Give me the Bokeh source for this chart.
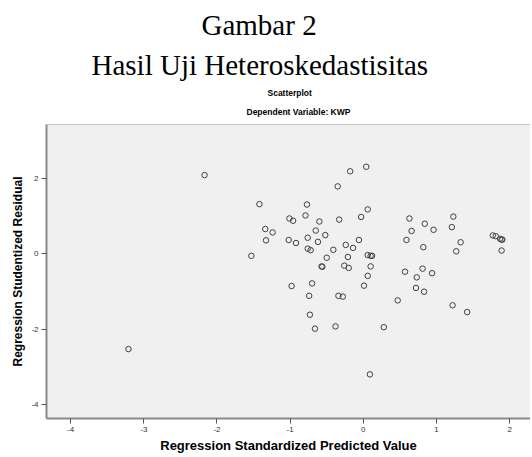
from bokeh.plotting import figure
from bokeh.models import Title, FixedTicker, Span
from bokeh.embed import file_html
from bokeh.resources import INLINE

pred = [-3.21, -2.17, -1.42, -1.34, -1.33, -1.53, -0.18, 0.04, -0.35, -0.77,
        0.06, -1.01, -0.96, -0.79, -0.60, -0.33, -0.03, -1.24, -1.02, -0.92,
        -0.65, -0.76, -0.52, -0.62, -0.76, -0.72, -0.41, -0.24, -0.14, -0.06,
        -0.50, -0.21, 0.06, 0.10, 0.12, -0.57, -0.56, -0.26, -0.20, 0.10,
        0.06, 0.01, -0.98, -0.70, -0.74, -0.34, -0.28, 0.47, 0.63, 0.84,
        0.96, 0.66, 0.59, 0.82, 1.23, 1.21, 1.33, 1.27, 1.77, 1.81,
        1.87, 1.89, 1.90, 1.89, 0.57, 0.73, 0.81, 0.94, 0.72, 0.83,
        1.22, 1.42, -0.73, -0.66, -0.38, 0.28, 0.09]
resid = [-2.53, 2.08, 1.31, 0.65, 0.35, -0.06, 2.18, 2.30, 1.78, 1.30,
         1.17, 0.93, 0.87, 1.01, 0.85, 0.90, 0.97, 0.56, 0.36, 0.28,
         0.61, 0.42, 0.49, 0.31, 0.13, 0.09, 0.10, 0.23, 0.15, 0.36,
         -0.11, -0.09, -0.04, -0.06, -0.06, -0.34, -0.35, -0.32, -0.38, -0.34,
         -0.59, -0.85, -0.86, -0.79, -1.12, -1.12, -1.14, -1.24, 0.93, 0.79,
         0.63, 0.60, 0.36, 0.17, 0.98, 0.70, 0.30, 0.06, 0.48, 0.46,
         0.39, 0.37, 0.37, 0.08, -0.48, -0.63, -0.40, -0.52, -0.91, -1.01,
         -1.37, -1.55, -1.62, -1.99, -1.93, -1.95, -3.20]

x_ticks = [-4, -3, -2, -1, 0, 1, 2]
x_tick_labels = ["-4", "-3", "-2", "-1", "0", "1", "2"]
y_ticks = [-4, -2, 0, 2]
y_tick_labels = ["-4", "-2", "0", "2"]

heading1 = "Gambar 2"
heading2 = "Hasil Uji Heteroskedastisitas"
chart_title = "Scatterplot"
chart_subtitle = "Dependent Variable: KWP"
x_label = "Regression Standardized Predicted Value"
y_label = "Regression Studentized Residual"

SANS = "Liberation Sans"
SERIF = "Liberation Serif"

p = figure(width=530, height=455, x_range=(-4.33, 2.285), y_range=(-4.37, 3.42),
           output_backend="svg", toolbar_location=None,
           background_fill_color="#f0f0f0", border_fill_color="white",
           min_border_left=46, min_border_right=0, min_border_bottom=0,
           min_border_top=0)
p.outline_line_color = None
p.grid.visible = False

p.scatter(pred, resid, size=5.5, marker="circle", fill_color=None,
          line_color="#404040", line_width=1)

p.add_layout(Span(location=3.42, dimension="width", line_color="#9a9a9a", line_width=1))

for ax, ticks, labels in ((p.xaxis[0], x_ticks, x_tick_labels), (p.yaxis[0], y_ticks, y_tick_labels)):
    ax.ticker = FixedTicker(ticks=ticks)
    ax.major_label_overrides = {t: l for t, l in zip(ticks, labels)}
    ax.minor_tick_line_color = None
    ax.axis_line_color = "#8a8a8a"
    ax.axis_line_width = 2
    ax.major_tick_line_color = "#555555"
    ax.major_tick_out = 5
    ax.major_tick_in = 0
    ax.major_label_text_font = SANS
    ax.major_label_text_font_size = "8px"
    ax.major_label_text_color = "#333333"
    ax.major_label_standoff = 3
    ax.axis_label_text_font = SANS
    ax.axis_label_text_font_style = "bold"
    ax.axis_label_text_color = "#000000"

p.xaxis.axis_label = x_label
p.xaxis.axis_label_text_font_size = "13px"
p.xaxis.axis_label_standoff = 3
p.yaxis.axis_label = y_label
p.yaxis.axis_label_text_font_size = "12px"
p.yaxis.axis_label_standoff = 3

p.add_layout(Title(text=chart_subtitle, align="left", offset=200, text_font=SANS,
                   text_color="#000000", text_font_size="8.5px", text_line_height=0.6,
                   text_font_style="bold", standoff=15), "above")
p.add_layout(Title(text=chart_title, align="left", offset=221, text_font=SANS,
                   text_color="#000000", text_font_size="8.5px",
                   text_font_style="bold", standoff=0), "above")
p.add_layout(Title(text=heading2, align="left", offset=45, text_font=SERIF,
                   text_color="#000000", text_font_size="29px",
                   text_font_style="normal", standoff=10), "above")
p.add_layout(Title(text=heading1, align="left", offset=155, text_font=SERIF,
                   text_color="#000000", text_font_size="29px",
                   text_font_style="normal", standoff=2), "above")
p.add_layout(Title(text=" ", text_font_size="3px", standoff=0), "above")

open("out.html", "w").write(file_html(p, INLINE))
